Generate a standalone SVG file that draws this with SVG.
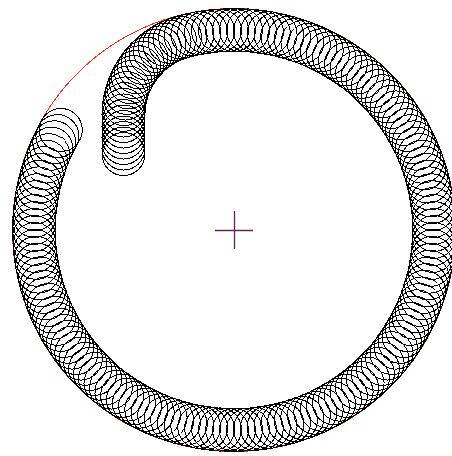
<svg xmlns="http://www.w3.org/2000/svg" width="452" height="456" viewBox="0 0 452 456">
<style>.c{fill:none;stroke:#000;stroke-width:1;shape-rendering:crispEdges}.x{stroke:#5b2a5b;stroke-width:1.3}</style>
<defs>
<circle id="a" class="c" cx="60.8" cy="130" r="21.5"/>
<circle id="b" class="c" cx="185.62" cy="35.94" r="21.5"/>
<g id="a10">
<use href="#a"/>
<use href="#a" transform="rotate(-2 234 230)"/>
<use href="#a" transform="rotate(-4 234 230)"/>
<use href="#a" transform="rotate(-6 234 230)"/>
<use href="#a" transform="rotate(-8 234 230)"/>
<use href="#a" transform="rotate(-10 234 230)"/>
<use href="#a" transform="rotate(-12 234 230)"/>
<use href="#a" transform="rotate(-14 234 230)"/>
<use href="#a" transform="rotate(-16 234 230)"/>
<use href="#a" transform="rotate(-18 234 230)"/>
</g>
</defs>
<rect width="452" height="456" fill="#fff"/>
<circle id="guide" cx="234" cy="230" r="221.5" fill="none" stroke="#ff2a1a" stroke-width="1" shape-rendering="crispEdges"/>
<g id="big">
<use href="#a10"/>
<use href="#a10" transform="rotate(-20 234 230)"/>
<use href="#a10" transform="rotate(-40 234 230)"/>
<use href="#a10" transform="rotate(-60 234 230)"/>
<use href="#a10" transform="rotate(-80 234 230)"/>
<use href="#a10" transform="rotate(-100 234 230)"/>
<use href="#a10" transform="rotate(-120 234 230)"/>
<use href="#a10" transform="rotate(-140 234 230)"/>
<use href="#a10" transform="rotate(-160 234 230)"/>
<use href="#a10" transform="rotate(-180 234 230)"/>
<use href="#a10" transform="rotate(-200 234 230)"/>
<use href="#a10" transform="rotate(-220 234 230)"/>
<use href="#a10" transform="rotate(-240 234 230)"/>
<use href="#a10" transform="rotate(-260 234 230)"/>
<use href="#a10" transform="rotate(-280 234 230)"/>
<use href="#a" transform="rotate(-300 234 230)"/>
<use href="#a" transform="rotate(-302 234 230)"/>
<use href="#a" transform="rotate(-304 234 230)"/>
<use href="#a" transform="rotate(-306 234 230)"/>
<use href="#a" transform="rotate(-308 234 230)"/>
<use href="#a" transform="rotate(-310 234 230)"/>
<use href="#a" transform="rotate(-312 234 230)"/>
<use href="#a" transform="rotate(-314 234 230)"/>
</g>
<g id="small">
<use href="#b" transform="rotate(-4 205.5 115.5)"/>
<use href="#b" transform="rotate(-8 205.5 115.5)"/>
<use href="#b" transform="rotate(-12 205.5 115.5)"/>
<use href="#b" transform="rotate(-16 205.5 115.5)"/>
<use href="#b" transform="rotate(-20 205.5 115.5)"/>
<use href="#b" transform="rotate(-24 205.5 115.5)"/>
<use href="#b" transform="rotate(-28 205.5 115.5)"/>
<use href="#b" transform="rotate(-32 205.5 115.5)"/>
<use href="#b" transform="rotate(-36 205.5 115.5)"/>
<use href="#b" transform="rotate(-40 205.5 115.5)"/>
<use href="#b" transform="rotate(-44 205.5 115.5)"/>
<use href="#b" transform="rotate(-48 205.5 115.5)"/>
<use href="#b" transform="rotate(-52 205.5 115.5)"/>
<use href="#b" transform="rotate(-56 205.5 115.5)"/>
<use href="#b" transform="rotate(-60 205.5 115.5)"/>
<use href="#b" transform="rotate(-64 205.5 115.5)"/>
<use href="#b" transform="rotate(-68 205.5 115.5)"/>
<use href="#b" transform="rotate(-72 205.5 115.5)"/>
<use href="#b" transform="rotate(-76 205.5 115.5)"/>
</g>
<g id="tail">
<circle class="c" cx="123.5" cy="121" r="21.5"/>
<circle class="c" cx="123.5" cy="126.5" r="21.5"/>
<circle class="c" cx="123.5" cy="132" r="21.5"/>
<circle class="c" cx="123.5" cy="137.5" r="21.5"/>
<circle class="c" cx="123.5" cy="143" r="21.5"/>
<circle class="c" cx="123.5" cy="148.5" r="21.5"/>
<circle class="c" cx="123.5" cy="154" r="21.5"/>
</g>
<g id="cross">
<line class="x" x1="215" y1="230.5" x2="253" y2="230.5"/>
<line class="x" x1="234.5" y1="211" x2="234.5" y2="249"/>
</g>
</svg>
